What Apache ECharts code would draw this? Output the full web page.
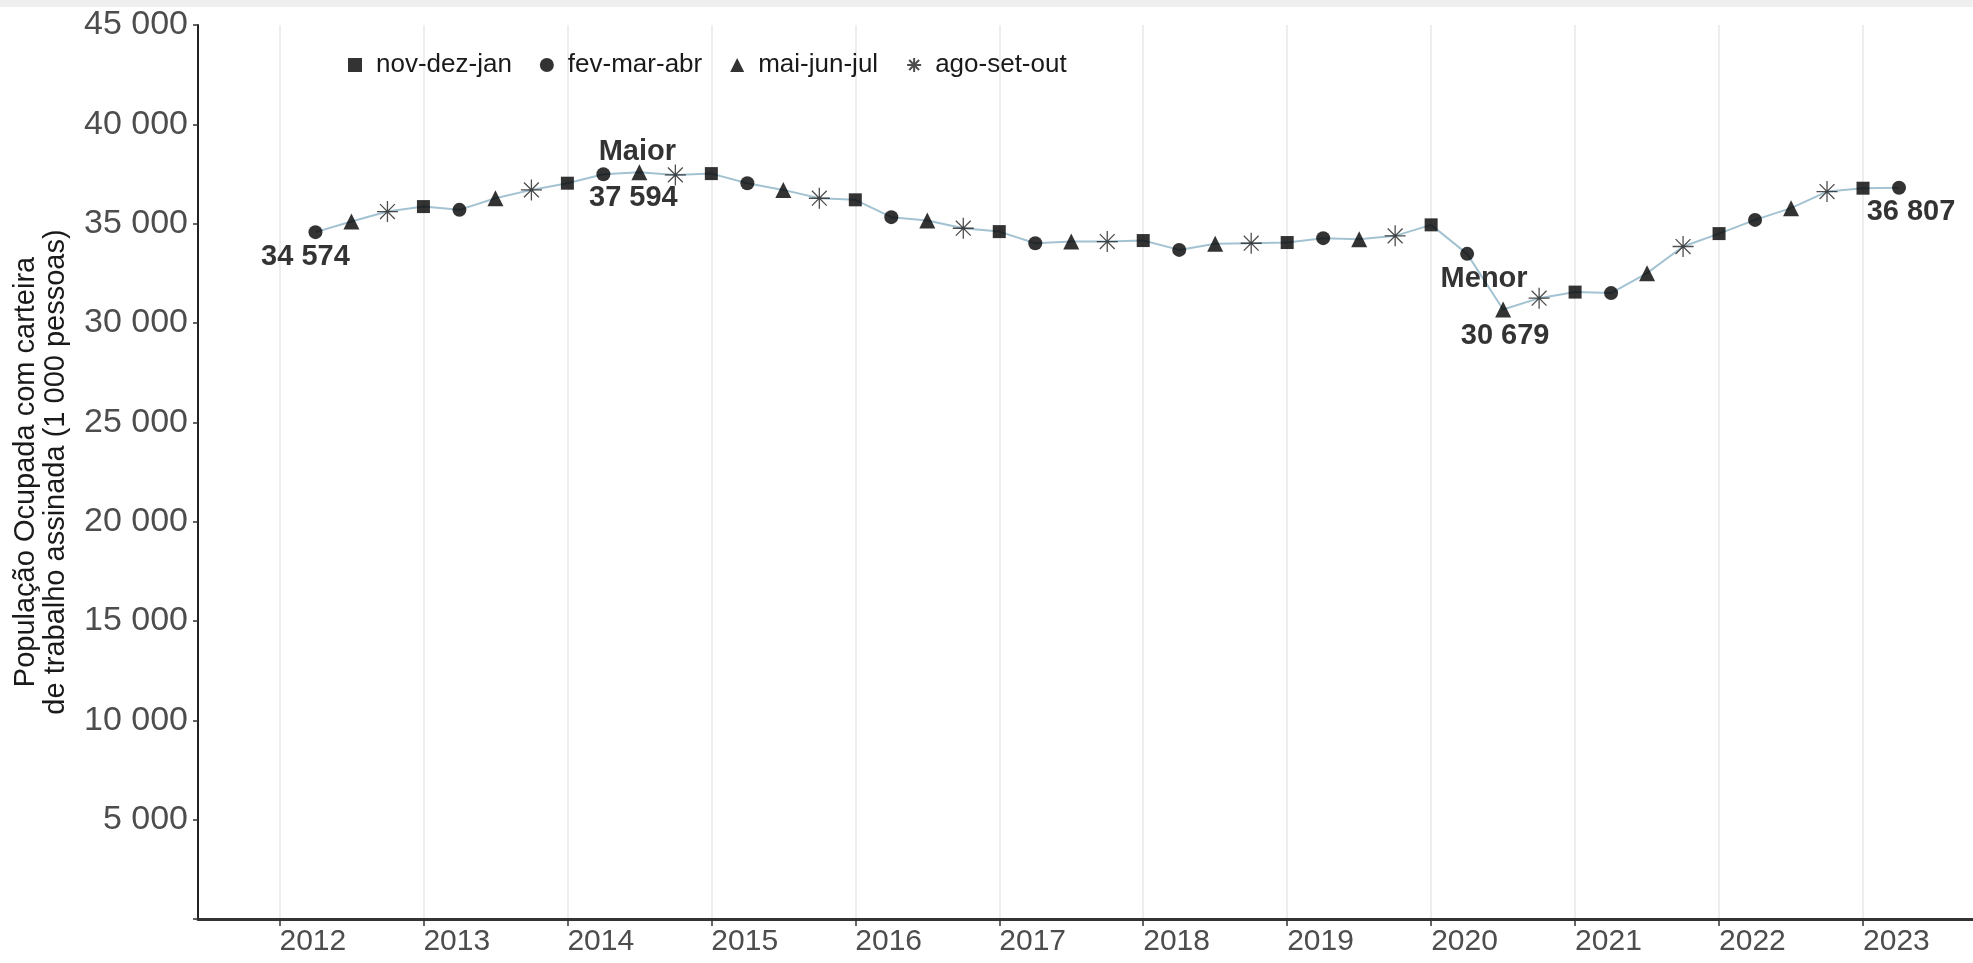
<!DOCTYPE html>
<html>
<head>
<meta charset="utf-8">
<script src="https://cdn.jsdelivr.net/npm/echarts@6/dist/echarts.min.js"></script>
<style>
html,body{margin:0;padding:0;background:#fff;}
#chart{width:1973px;height:963px;}
</style>
</head>
<body>
<div id="chart"></div>
<script>
// ---- data ----
const periods = ['2012-04','2012-07','2012-10','2013-01','2013-04','2013-07','2013-10','2014-01','2014-04','2014-07','2014-10','2015-01','2015-04','2015-07','2015-10','2016-01','2016-04','2016-07','2016-10','2017-01','2017-04','2017-07','2017-10','2018-01','2018-04','2018-07','2018-10','2019-01','2019-04','2019-07','2019-10','2020-01','2020-04','2020-07','2020-10','2021-01','2021-04','2021-07','2021-10','2022-01','2022-04','2022-07','2022-10','2023-01','2023-04'];
const values = [34574,35106,35609,35860,35695,36280,36700,37037,37490,37594,37455,37520,37037,36700,36280,36200,35327,35160,34770,34600,34015,34100,34100,34150,33680,33985,34015,34050,34270,34220,34387,34940,33480,30679,31250,31555,31505,32510,33850,34500,35190,35780,36615,36785,36807];
const trimesters = ['nov-dez-jan','fev-mar-abr','mai-jun-jul','ago-set-out'];
const endMonths = [1,4,7,10];
const yearTicks = [2012,2013,2014,2015,2016,2017,2018,2019,2020,2021,2022,2023];
const yTicks = [5000,10000,15000,20000,25000,30000,35000,40000,45000];
const yTitle = 'População Ocupada com carteira\nde trabalho assinada (1 000 pessoas)';
const maxLabel = 'Maior', minLabel = 'Menor';

// ---- helpers ----
function fmt(v){ return String(v).replace(/\B(?=(\d{3})+(?!\d))/g,' '); }
function toX(p){ const [y,m]=p.split('-').map(Number); return y + (m-1)/12; }
const pts = periods.map((p,i)=>[toX(p), values[i]]);
const trimOf = p => trimesters[endMonths.indexOf(Number(p.split('-')[1]))];

const starPath = 'path://M0,-10L0,10M-10,0L10,0M-7.07,-7.07L7.07,7.07M-7.07,7.07L7.07,-7.07';
const symbols = {
  'nov-dez-jan': {symbol:'rect', size:13},
  'fev-mar-abr': {symbol:'circle', size:14},
  'mai-jun-jul': {symbol:'triangle', size:16},
  'ago-set-out': {symbol:starPath, size:21}
};

const iMax = values.indexOf(Math.max(...values));
const iMin = values.indexOf(Math.min(...values));
const iLast = values.length-1;

const annot = [
  {value: pts[0], label:{formatter: fmt(values[0]), offset:[-10,25]}},
  {value: pts[iMax], label:{formatter: maxLabel, offset:[-2,-20]}},
  {value: pts[iMax], label:{formatter: fmt(values[iMax]), offset:[-6,26]}},
  {value: pts[iMin], label:{formatter: minLabel, offset:[-19,-31]}},
  {value: pts[iMin], label:{formatter: fmt(values[iMin]), offset:[2,26]}},
  {value: pts[iLast], label:{formatter: fmt(values[iLast]), offset:[12,24]}}
];

const FONT = '"Liberation Sans", Arial, Helvetica, sans-serif';

const series = [{
  name:'linha', type:'line', data: pts, symbol:'none', silent:true,
  lineStyle:{color:'#a3c2d2', width:2}, z:1
}];
trimesters.forEach(t=>{
  const isStar = t==='ago-set-out';
  series.push({
    name:t, type:'scatter', symbol: symbols[t].symbol, symbolSize: symbols[t].size,
    data: pts.filter((p,i)=>trimOf(periods[i])===t),
    itemStyle: isStar ? {color:'rgba(0,0,0,0)', borderColor:'#222', borderWidth:1.3} : {color:'#000'},
    z:3
  });
});
series.push({
  name:'annot', type:'scatter', symbolSize:0, data: annot, silent:true, z:4,
  label:{show:true, position:'inside', fontFamily:FONT, fontWeight:'bold', fontSize:29, color:'#000'}
});

const chart = echarts.init(document.getElementById('chart'));
chart.setOption({
  animation:false,
  backgroundColor:'#fff',
  textStyle:{fontFamily:FONT},
  graphic:[{type:'rect', shape:{x:0,y:0,width:1973,height:7}, style:{fill:'#efefef'}, z:-10}],
  legend:{
    data: trimesters, left:348, top:52, padding:0, itemGap:28, itemWidth:14, itemHeight:14,
    textStyle:{fontSize:26, color:'#1a1a1a', fontFamily:FONT, padding:[0,0,0,9]}
  },
  grid:{left:198, right:0, top:25, bottom:44, containLabel:false},
  xAxis:{
    type:'value', min:2011.434, max:2023.764,
    axisLine:{show:true, onZero:false, lineStyle:{color:'#333', width:3}},
    axisTick:{show:true, customValues: yearTicks, length:7, lineStyle:{color:'#333', width:1.5}},
    axisLabel:{show:true, customValues: yearTicks, formatter: v=>String(v), align:'left', fontSize:30, color:'#4d4d4d', margin:8, fontFamily:FONT},
    splitLine:{show:true, customValues: yearTicks, lineStyle:{color:'#e8e8e8', width:1.5}}
  },
  yAxis:{
    type:'value', min:0, max:45000, interval:5000,
    name: yTitle, nameLocation:'middle', nameRotate:90, nameGap:127,
    nameTextStyle:{fontSize:29, color:'#1a1a1a', lineHeight:30, fontFamily:FONT},
    axisLine:{show:true, lineStyle:{color:'#222', width:2}},
    axisTick:{show:true, length:5, lineStyle:{color:'#333', width:1.5}},
    axisLabel:{fontSize:34, color:'#4d4d4d', margin:10, fontFamily:FONT,
      formatter: v => v===0 ? '' : fmt(v)},
    splitLine:{show:false}
  },
  series: series
});
</script>
</body>
</html>
